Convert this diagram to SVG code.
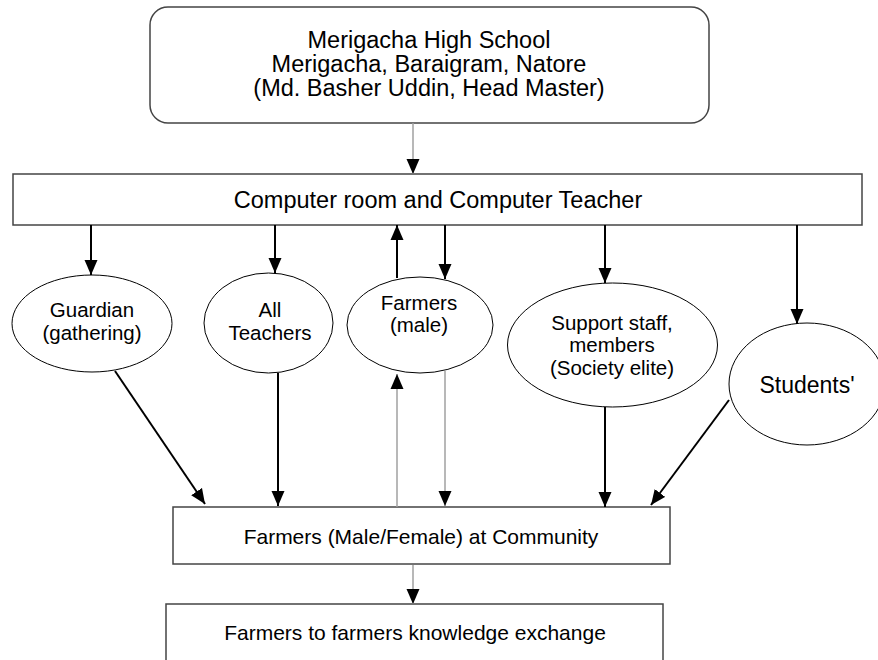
<svg xmlns="http://www.w3.org/2000/svg" width="878" height="660" viewBox="0 0 878 660">
<style>
.box{fill:#fff;stroke:#444;stroke-width:1.5}
.ell{fill:#fff;stroke:#000;stroke-width:1}
.t{font-family:"Liberation Sans",Arial,sans-serif;fill:#000;text-anchor:middle}
.k{stroke:#000;stroke-width:2;fill:none}
.g{stroke:#a0a0a0;stroke-width:1.5;fill:none}
</style>
<defs>
<marker id="ah" markerUnits="userSpaceOnUse" markerWidth="15" markerHeight="14" viewBox="0 0 15 14" refX="15" refY="7" orient="auto">
<path d="M0,0.5 L15,7 L0,13.5 Z" fill="#000"/>
</marker>
</defs>
<g id="school">
<rect class="box" x="150" y="7" width="559" height="116" rx="18"/>
<text class="t" x="429" y="48" font-size="23.5">Merigacha High School</text>
<text class="t" x="429" y="72" font-size="23.5">Merigacha, Baraigram, Natore</text>
<text class="t" x="429" y="96" font-size="23.5">(Md. Basher Uddin, Head Master)</text>
</g>
<g id="computer">
<rect class="box" x="13" y="174" width="849" height="51"/>
<text class="t" x="438" y="208" font-size="23.5">Computer room and Computer Teacher</text>
</g>
<g id="guardian">
<ellipse class="ell" cx="92" cy="323.5" rx="80" ry="48.5"/>
<text class="t" x="92" y="317" font-size="20.5">Guardian</text>
<text class="t" x="92" y="340" font-size="20.5">(gathering)</text>
</g>
<g id="teachers">
<ellipse class="ell" cx="268.5" cy="323" rx="64.5" ry="50"/>
<text class="t" x="270" y="317" font-size="20.5">All</text>
<text class="t" x="270" y="340" font-size="20.5">Teachers</text>
</g>
<g id="farmers-male">
<ellipse class="ell" cx="420" cy="325" rx="73" ry="48"/>
<text class="t" x="419" y="310" font-size="20.5">Farmers</text>
<text class="t" x="419" y="332" font-size="20.5">(male)</text>
</g>
<g id="support">
<ellipse class="ell" cx="612.5" cy="345" rx="105" ry="62"/>
<text class="t" x="612" y="330" font-size="20.5">Support staff,</text>
<text class="t" x="612" y="352" font-size="20.5">members</text>
<text class="t" x="612" y="375" font-size="20.5">(Society elite)</text>
</g>
<g id="students">
<ellipse class="ell" cx="807" cy="384" rx="78" ry="61"/>
<text class="t" x="807" y="393" font-size="23">Students'</text>
</g>
<g id="community">
<rect class="box" x="173" y="507" width="497" height="57"/>
<text class="t" x="421" y="544" font-size="21">Farmers (Male/Female) at Community</text>
</g>
<g id="exchange">
<rect class="box" x="166" y="604" width="497" height="70"/>
<text class="t" x="415" y="640" font-size="21">Farmers to farmers knowledge exchange</text>
</g>
<g id="connectors">
<line class="g" x1="413" y1="123" x2="413" y2="174" marker-end="url(#ah)"/>
<line class="k" x1="91" y1="225" x2="91" y2="275" marker-end="url(#ah)"/>
<line class="k" x1="275" y1="225" x2="275" y2="273" marker-end="url(#ah)"/>
<line class="k" x1="397" y1="278" x2="397" y2="225" marker-end="url(#ah)"/>
<line class="k" x1="445" y1="225" x2="445" y2="279" marker-end="url(#ah)"/>
<line class="k" x1="605" y1="225" x2="605" y2="283" marker-end="url(#ah)"/>
<line class="k" x1="797" y1="225" x2="797" y2="324" marker-end="url(#ah)"/>
<line class="k" x1="115" y1="371" x2="205" y2="504" marker-end="url(#ah)"/>
<line class="k" x1="278" y1="373" x2="278" y2="506" marker-end="url(#ah)"/>
<line class="g" x1="397" y1="507" x2="397" y2="374" marker-end="url(#ah)"/>
<line class="g" x1="445" y1="371" x2="445" y2="506" marker-end="url(#ah)"/>
<line class="k" x1="605" y1="407" x2="605" y2="507" marker-end="url(#ah)"/>
<line class="k" x1="729" y1="400" x2="651" y2="505" marker-end="url(#ah)"/>
<line class="g" x1="413" y1="565" x2="413" y2="604" marker-end="url(#ah)"/>
</g>
</svg>
